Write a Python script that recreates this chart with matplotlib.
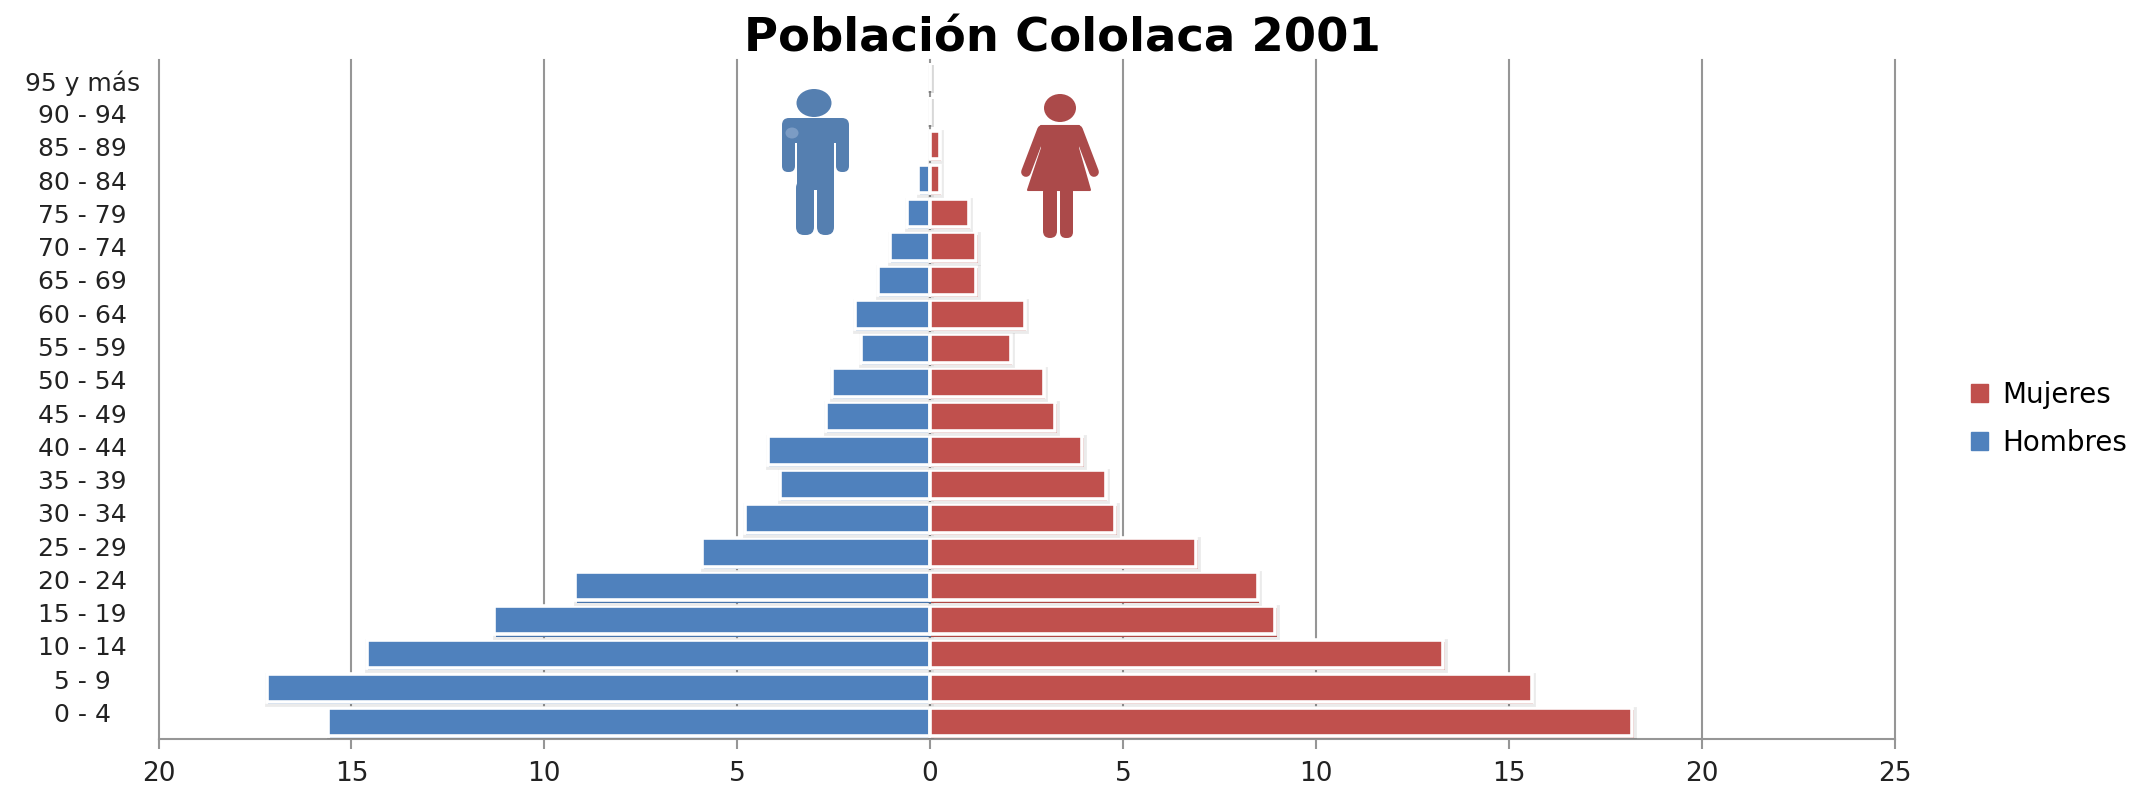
import matplotlib
matplotlib.use("Agg")
import matplotlib.pyplot as plt
import matplotlib.patheffects as pe
from matplotlib.patches import Ellipse, FancyBboxPatch, Patch, Polygon, Rectangle
from matplotlib.lines import Line2D
from matplotlib.transforms import Affine2D
import numpy as np

plt.rcParams['font.family'] = ['DejaVu Sans']

grupos = ["0 - 4", "5 - 9", "10 - 14", "15 - 19", "20 - 24", "25 - 29", "30 - 34",
          "35 - 39", "40 - 44", "45 - 49", "50 - 54", "55 - 59", "60 - 64", "65 - 69",
          "70 - 74", "75 - 79", "80 - 84", "85 - 89", "90 - 94", "95 y más"]
hombres = [15.6, 17.2, 14.6, 11.3, 9.2, 5.9, 4.8, 3.9, 4.2, 2.7,
           2.55, 1.8, 1.95, 1.35, 1.05, 0.6, 0.3, 0.0, 0.0, 0.0]
mujeres = [18.2, 15.6, 13.3, 8.95, 8.5, 6.9, 4.8, 4.55, 3.95, 3.25,
           2.95, 2.1, 2.45, 1.2, 1.2, 1.0, 0.25, 0.25, 0.0, 0.0]
xticks = [-20, -15, -10, -5, 0, 5, 10, 15, 20, 25]
xlabels = ["20", "15", "10", "5", "0", "5", "10", "15", "20", "25"]

AZUL = "#4F81BD"
ROJO = "#C0504D"
GRIS = "#969696"
W, H = 2135, 787

fig = plt.figure(figsize=(W / 100, H / 100), dpi=100)
ax = fig.add_axes([158.5 / W, 1 - 739 / H, (1894.5 - 158.5) / W, (739 - 60) / H])

sombra = [pe.Stroke(linewidth=4.2, foreground=(0, 0, 0, 0.08), offset=(1.0, -1.5)), pe.Normal()]
y = np.arange(len(grupos))
b1 = ax.barh(y, -np.array(hombres), height=0.84, color=AZUL, edgecolor="white",
             linewidth=2.6, zorder=3)
b2 = ax.barh(y, mujeres, height=0.84, color=ROJO, edgecolor="white",
             linewidth=2.6, zorder=3)
for r in list(b1) + list(b2):
    r.set_path_effects(sombra)

ax.set_xlim(-20, 25)
ax.set_ylim(-0.5, len(grupos) - 0.5)
ax.set_xticks(xticks)
ax.set_xticklabels(xlabels, fontsize=19, color="#222222")
# las etiquetas del original quedan algo mas juntas que las barras
ax.set_yticks(0.28 + y * 18.62 / 19)
ax.set_yticklabels(grupos, fontsize=18, color="#222222", ha="center")
ax.tick_params(axis="y", length=0, pad=55)
ax.tick_params(axis="x", length=7, width=1.5, color=GRIS, pad=9)
ax.grid(axis="x", color=GRIS, linewidth=1.5, zorder=1)
ax.set_axisbelow(True)
for g in ax.get_xgridlines():
    g.set_clip_on(False)
for lado in ["top", "left", "right"]:
    ax.spines[lado].set_visible(False)
ax.spines["bottom"].set_color(GRIS)
ax.spines["bottom"].set_linewidth(1.5)

fig.text(1062 / W, 1 - 39 / H, "Población Cololaca 2001", fontsize=33.5, fontweight="bold",
         ha="center", va="center", color="black")

ax.legend(handles=[Patch(color=ROJO, label="Mujeres"), Patch(color=AZUL, label="Hombres")],
          loc="center left", bbox_to_anchor=(1971 / W, 1 - 419 / H),
          bbox_transform=fig.transFigure, frameon=False, fontsize=20, borderaxespad=0,
          borderpad=0, handlelength=0.62, handleheight=0.62, handletextpad=0.5, labelspacing=0.72)

# iconos hombre / mujer, en pixeles de la figura
px = Affine2D().scale(1 / W, -1 / H).translate(0, 1) + fig.transFigure


def add(p):
    p.set_transform(px)
    p.set_clip_on(False)
    p.set_zorder(4)
    fig.add_artist(p)


def caja(x0, y0, x1, y1, color, r=5):
    add(FancyBboxPatch((x0 + r, y0 + r), x1 - x0 - 2 * r, y1 - y0 - 2 * r,
                       boxstyle=f"round,pad={r},rounding_size={r}", fc=color, ec="none"))


C_H = "#557FB0"
C_M = "#AB4A4A"
add(Ellipse((814, 103), 35, 28, fc=C_H, ec="none"))
caja(782, 118, 849, 150, C_H, r=7)
caja(782, 130, 795, 172, C_H, r=6)
caja(836, 130, 849, 172, C_H, r=6)
add(Rectangle((795, 143), 2, 30, fc="white", ec="none"))
add(Rectangle((834, 143), 2, 30, fc="white", ec="none"))
caja(797, 118, 834, 190, C_H, r=3)
caja(796, 180, 814, 235, C_H, r=8)
caja(817, 180, 834, 235, C_H, r=8)
add(Ellipse((792, 133), 13, 11, fc="#7C9CC4", ec="none"))

add(Ellipse((1060, 108), 32, 28, fc=C_M, ec="none"))
add(Polygon([(1041, 126), (1079, 126), (1078, 148), (1090, 190), (1028, 190), (1042, 148)],
            closed=True, fc=C_M, ec=C_M, lw=1.5, joinstyle="round"))
for xs in [[1042, 1026], [1078, 1094]]:
    add(Line2D(xs, [130, 172], color=C_M, lw=7, solid_capstyle="round"))
caja(1043, 185, 1057, 238, C_M, r=7)
caja(1060, 185, 1073, 238, C_M, r=6)

fig.savefig("out.png", dpi=100)
